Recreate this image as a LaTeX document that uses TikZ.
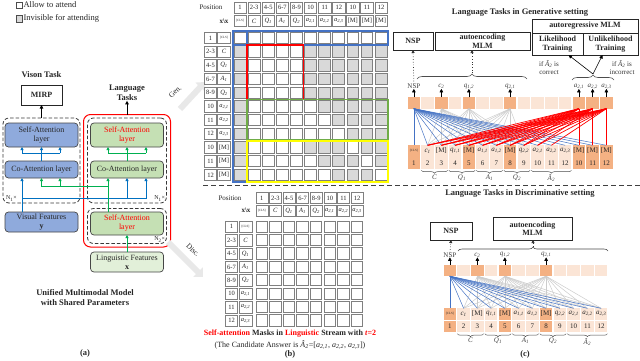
\documentclass[tikz,border=0pt]{standalone}
\usepackage{fontspec}
\setmainfont{Liberation Serif}
\usetikzlibrary{arrows.meta,decorations.pathreplacing,calc}
\definecolor{bluebox}{HTML}{8FAADC}
\definecolor{greenbox}{HTML}{C5E0B4}
\definecolor{lightgreen}{HTML}{E2F0D9}
\definecolor{arrblue}{HTML}{0070C0}
\definecolor{arrgreen}{HTML}{00B050}
\definecolor{mblue}{HTML}{4472C4}
\definecolor{mgreen}{HTML}{70AD47}
\definecolor{myellow}{HTML}{FFFF00}
\definecolor{cellgray}{HTML}{D9D9D9}
\definecolor{cellline}{HTML}{808080}
\definecolor{oD}{HTML}{F4B183}
\definecolor{oL}{HTML}{FBE5D6}
\newcommand{\fsz}[2]{\fontsize{#1}{#2}\selectfont}
\newcommand{\tk}[2]{\textit{#1}\textsubscript{\textit{#2}}}
\newcommand{\tkk}[3]{\textit{#1}\textsubscript{\textit{#2,#3}}}
\newcommand{\Ahat}{\textit{\^{A}}\textsubscript{\textit{2}}}
\newcommand{\clstok}{{\fsz{3.2}{4}[CLS]}}
\begin{document}
\begin{tikzpicture}[x=1pt,y=-1pt,
  every node/.style={inner sep=0pt, outer sep=0pt, text=black!85},
  txt/.style={font=\fsz{8}{9}, align=center},
  btxt/.style={font=\bfseries\fsz{8.5}{10}, align=center},
  lbox/.style={draw=gray!55!black, line width=0.7pt, rounded corners=3.5pt, align=center, font=\fsz{8}{9}, minimum width=73pt},
  dbox/.style={draw=gray!45!black, dash pattern=on 3.5pt off 2pt, line width=0.8pt, rounded corners=6pt},
  tbox/.style={draw=black!85, line width=0.9pt, align=center, font=\bfseries\fsz{8}{8.5}},
  barr/.style={draw=arrblue, line width=0.8pt},
  garr/.style={draw=arrgreen, line width=0.8pt},
  arr/.style={-{Triangle[length=3.2pt,width=3.2pt]}},
  karr/.style={draw=black, line width=0.8pt, -{Triangle[length=3.5pt,width=3.5pt]}},
  darr/.style={draw=black!80, line width=0.7pt, dotted, -{Triangle[length=3pt,width=3pt]}},
  hcell/.style={draw=cellline, line width=0.6pt, fill=white, minimum width=12.4pt, minimum height=11.4pt, font=\fsz{6.5}{7}},
  mcell/.style={draw=cellline, line width=0.9pt, minimum width=11.8pt, minimum height=11.4pt},
  ocell/.style={minimum width=12.6pt, minimum height=11.4pt, font=\fsz{7}{8}},
  bbrace/.style={decorate, decoration={brace, amplitude=3pt}, draw=gray!60!black, line width=0.5pt},
  tbrace/.style={decorate, decoration={brace, amplitude=5pt}, draw=gray!60!black, line width=0.6pt},
  lbl/.style={font=\fsz{7}{8}, text=black!75},
  bline/.style={draw=mblue, line width=0.5pt},
  gline/.style={draw=gray!40, line width=0.5pt},
  rline/.style={draw=red, line width=0.7pt},
  fatarrow/.style={draw=gray!18, line width=6pt, -{Triangle[length=7pt,width=13pt]}}
]
\useasboundingbox (0,0) rectangle (640,360);
\fill[white] (0,0) rectangle (640,360);

% ---------------- (a) ----------------
\node[draw=gray!60!black, line width=0.5pt, fill=white, minimum size=6.5pt] (leg1) at (19,5) {};
\node[anchor=west, font=\fsz{8.5}{9}] (leg1t) at (23.5,5) {Allow to attend};
\node[draw=gray!60!black, line width=0.5pt, fill=cellgray, minimum size=6.5pt] (leg2) at (19,18.5) {};
\node[anchor=west, font=\fsz{8.5}{9}] (leg2t) at (23.5,18.5) {Invisible for attending};

\node[btxt] (vt) at (41.5,75) {Vison Task};
\node[tbox, minimum width=41pt, minimum height=20pt] (mirp) at (41.5,95) {MIRP};
\node[btxt] (lt) at (127,93) {Language\\Tasks};

\node[dbox, minimum width=77pt, minimum height=85pt] (ldash) at (41.5,160.5) {};
\node[draw=red, line width=1pt, rounded corners=7pt, minimum width=87pt, minimum height=132.5pt] (redbox) at (127,180.75) {};
\node[dbox, minimum width=79pt, minimum height=85pt] (rdash) at (127,160.5) {};
\node[dbox, minimum width=79pt, minimum height=35pt] (rdash2) at (127,226) {};
\node[font=\fsz{6}{7}, anchor=south west] (n1l) at (6,201) {N\textsubscript{1}×};
\node[font=\fsz{6}{7}, anchor=south east] (n1r) at (165,201) {N\textsubscript{1}×};
\node[font=\fsz{6}{7}, anchor=south east] (n2r) at (165,242) {N\textsubscript{2}×};

\node[lbox, fill=bluebox, minimum height=24pt] (lsa) at (41.5,135) {Self-Attention\\layer};
\node[lbox, fill=bluebox, minimum height=17pt] (lca) at (41.5,169.5) {Co-Attention layer};
\node[lbox, fill=bluebox, minimum height=20pt] (vf) at (41.5,222) {Visual Features\\\textbf{y}};
\node[lbox, fill=greenbox, minimum height=24pt, text=red] (rsa) at (127,135) {Self-Attention\\layer};
\node[lbox, fill=greenbox, minimum height=17pt] (rca) at (127,169.5) {Co-Attention layer};
\node[lbox, fill=greenbox, minimum height=23pt, text=red] (rsa2) at (127,223.5) {Self-Attention\\layer};
\node[lbox, fill=lightgreen, minimum height=20pt] (lf) at (127,262) {Linguistic Features\\\textbf{x}};

% arrows within (a)
\draw[barr] (lca.north) -- ++(0,-8) coordinate (lj);
\draw[barr] ([xshift=-19.5pt]lj) -- ([xshift=18.5pt]lj);
\foreach \s in {-19.5,0,18.5} \draw[barr,arr] ([xshift=\s pt]lj) -- ([xshift=\s pt]lsa.south);
\draw[garr] (rca.north) -- ++(0,-8) coordinate (rj);
\draw[garr] ([xshift=-19pt]rj) -- ([xshift=19pt]rj);
\foreach \s in {-19,0,19} \draw[garr,arr] ([xshift=\s pt]rj) -- ([xshift=\s pt]rsa.south);

\coordinate (bb) at ([xshift=-19.5pt,yshift=14pt]vf.north);
\coordinate (rcab) at ([xshift=19pt]rca.south);
\draw[barr,arr] ([xshift=-19.5pt]vf.north) -- ([xshift=-19.5pt]lca.south);
\draw[barr,arr] (bb) -| (rcab);
\draw[barr,arr] (bb -| rca.south) -- (rca.south);

\coordinate (gb) at ([xshift=-19pt,yshift=-8pt]rca.south);
\coordinate (lcab) at ([xshift=18.5pt]lca.south);
\draw[garr,arr] ([xshift=-19pt]rsa2.north) -- ([xshift=-19pt]rca.south);
\draw[garr,arr] (gb) -| (lca.south);
\draw[garr,arr] (gb -| lcab) -- (lcab);
\draw[garr,arr] (lf.north) -- (rsa2.south);

\draw[karr] (ldash.north) -- (mirp.south);
\draw[karr] (redbox.north) -- (lt.south);

\node[btxt] (capa) at (85,297.5) {Unified Multimodal Model\\with Shared Parameters};
\node[btxt] (labela) at (85,353) {(a)};

% ---------------- Gen / Disc arrows ----------------
\coordinate (genS) at (180,109); \coordinate (genE) at (205,82);
\draw[fatarrow] (genS) -- (genE);
\node[rotate=44, font=\fsz{7.5}{8}] (gent) at (175,92) {Gen.};
\coordinate (discS) at (168,242); \coordinate (discE) at (203,277);
\draw[fatarrow] (discS) -- (discE);
\node[rotate=-45, font=\fsz{7.5}{8}] (disct) at (193,250) {Disc.};

% ---------------- (b) top matrix ----------------
\node[font=\fsz{7}{8}] (posA) at (211,7.5) {Position};
\node[font=\bfseries\fsz{7}{8}] (xxA) at (224,21) {x\textbackslash x};
\foreach \p [count=\i] in {1,2-3,4-5,6-7,8-9,10,11,12,10,11,12}
  \node[hcell] (ha-\i) at ({233+(\i-0.5)*14.1},7.5) {\p};
\foreach \lab [count=\i] in {\clstok,\textit{C},\tk{Q}{1},\tk{A}{1},\tk{Q}{2},\tkk{a}{2}{1},\tkk{a}{2}{2},\tkk{a}{2}{3},[M],[M],[M]}
  \node[hcell] (hb-\i) at ({233+(\i-0.5)*14.1},21) {\lab};
\foreach \p [count=\i] in {1,2-3,4-5,6-7,8-9,10,11,12,10,11,12}
  \node[hcell] (ra-\i) at (210.5,{31+(\i-0.5)*13.7}) {\p};
\foreach \lab [count=\i] in {\clstok,\textit{C},\tk{Q}{1},\tk{A}{1},\tk{Q}{2},\tkk{a}{2}{1},\tkk{a}{2}{2},\tkk{a}{2}{3},[M],[M],[M]}
  \node[hcell, minimum width=13pt] (rb-\i) at (224,{31+(\i-0.5)*13.7}) {\lab};
\foreach \row [count=\r] in {
  {0,0,0,0,0,0,0,0,0,0,0},
  {1,0,0,0,0,1,1,1,1,1,1},
  {1,0,0,0,0,1,1,1,1,1,1},
  {1,0,0,0,0,1,1,1,1,1,1},
  {1,0,0,0,0,1,1,1,1,1,1},
  {1,0,0,0,0,0,1,1,1,1,1},
  {1,0,0,0,0,0,0,1,1,1,1},
  {1,0,0,0,0,0,0,0,1,1,1},
  {1,0,0,0,0,1,1,1,0,1,1},
  {1,0,0,0,0,0,1,1,1,0,1},
  {1,0,0,0,0,0,0,1,1,1,0}}{
  \foreach \g [count=\c] in \row {
    \ifnum\g=1 \def\fc{cellgray}\else\def\fc{white}\fi
    \node[mcell, fill=\fc] (ma-\r-\c) at ({233+(\c-0.5)*14.1},{31+(\r-0.5)*13.7}) {};
  }
}
\draw[mblue, line width=1.6pt] ([xshift=-1.2pt,yshift=1.2pt]ma-1-1.north west) rectangle ([xshift=1.2pt,yshift=-1.2pt]ma-1-11.south east);
\draw[mblue, line width=1.6pt] ([xshift=-1.2pt,yshift=1.2pt]ma-1-1.north west) rectangle ([xshift=1.2pt,yshift=-1.2pt]ma-11-1.south east);
\draw[red, line width=1.6pt] ([xshift=-1pt,yshift=1pt]ma-2-2.north west) rectangle ([xshift=1pt,yshift=-1pt]ma-5-5.south east);
\draw[mgreen, line width=1.6pt] ([xshift=-1pt,yshift=1pt]ma-6-2.north west) rectangle ([xshift=1.2pt,yshift=-0.8pt]ma-8-11.south east);
\draw[myellow, line width=1.6pt] ([xshift=-1pt,yshift=0.8pt]ma-9-2.north west) rectangle ([xshift=1.2pt,yshift=-1.2pt]ma-11-11.south east);

% separator
\coordinate (sepL) at (203,185.5); \coordinate (sepR) at (640,185.5);
\draw[gray!50!black, line width=1.2pt, dash pattern=on 5pt off 3pt] (sepL) -- (sepR);

% ---------------- (b) bottom matrix ----------------
\node[font=\fsz{7}{8}] (posB) at (230,198) {Position};
\node[font=\bfseries\fsz{7}{8}] (xxB) at (246,210.5) {x\textbackslash x};
\foreach \p [count=\i] in {1,2-3,4-5,6-7,8-9,10,11,12}
  \node[hcell, minimum width=12pt] (hc-\i) at ({255+(\i-0.5)*13.6},198) {\p};
\foreach \lab [count=\i] in {\clstok,\textit{C},\tk{Q}{1},\tk{A}{1},\tk{Q}{2},\tkk{a}{2}{1},\tkk{a}{2}{2},\tkk{a}{2}{3}}
  \node[hcell, minimum width=12pt] (hd-\i) at ({255+(\i-0.5)*13.6},210.5) {\lab};
\foreach \p [count=\i] in {1,2-3,4-5,6-7,8-9,10,11,12}
  \node[hcell, minimum width=12pt] (rc-\i) at (231.5,{220+(\i-0.5)*13.4}) {\p};
\foreach \lab [count=\i] in {\clstok,\textit{C},\tk{Q}{1},\tk{A}{1},\tk{Q}{2},\tkk{a}{2}{1},\tkk{a}{2}{2},\tkk{a}{2}{3}}
  \node[hcell, minimum width=13pt] (rd-\i) at (245.5,{220+(\i-0.5)*13.4}) {\lab};
\foreach \r in {1,...,8}
  \foreach \c in {1,...,8}
    \node[mcell, fill=white, minimum width=11.4pt, minimum height=11.2pt] (mb-\r-\c) at ({255+(\c-0.5)*13.6},{220+(\r-0.5)*13.4}) {};

\node[font=\bfseries\fsz{8}{9}] (capb1) at (290,334) {\textcolor{red}{Self-attention} Masks in \textcolor{red}{Linguistic} Stream with \textcolor{red}{\textit{t}=2}};
\node[font=\fsz{8}{9}] (capb2) at (290,345) {(The Candidate Answer is \Ahat=[\tkk{a}{2}{1}, \tkk{a}{2}{2}, \tkk{a}{2}{3}])};
\node[btxt] (labelb) at (290,354.5) {(b)};

% ---------------- (c) generative ----------------
\node[btxt] (gtitle) at (520,12) {Language Tasks in Generative setting};
\node[tbox, minimum width=40pt, minimum height=18pt] (gnsp) at (413,41) {NSP};
\node[tbox, minimum width=95pt, minimum height=18pt] (gmlm) at (482.5,41) {autoencoding\\MLM};
\node[tbox, minimum width=106pt, minimum height=14pt] (armlm) at (585,26) {autoregressive MLM};
\node[tbox, minimum width=51pt, minimum height=22pt, anchor=north west] (lik) at (armlm.south west) {Likelihood\\Training};
\node[tbox, minimum width=55pt, minimum height=22pt, anchor=north east] (unlik) at (armlm.south east) {Unlikelihood\\Training};

\foreach \fc [count=\i] in {oD,oL,oD,oL,oD,oL,oL,oD,oL,oL,oL,oL,oD,oD,oD}
  \node[ocell, fill=\fc] (gh-\i) at ({407+(\i-0.5)*13.75},103) {};
\foreach \lab/\fc [count=\i] in {\clstok/oD,\tk{c}{1}/oL,[M]/oL,\tkk{q}{1}{1}/oL,[M]/oD,\tkk{a}{1}{1}/oL,\tkk{a}{1}{2}/oL,[M]/oD,\tkk{q}{2}{2}/oL,\tkk{a}{2}{1}/oL,\tkk{a}{2}{2}/oL,\tkk{a}{2}{3}/oL,[M]/oD,[M]/oD,[M]/oD}
  \node[ocell, fill=\fc] (gt-\i) at ({407+(\i-0.5)*13.75},151) {\lab};
\foreach \lab/\fc [count=\i] in {1/oD,2/oL,3/oL,4/oL,5/oD,6/oL,7/oL,8/oD,9/oL,10/oL,11/oL,12/oL,10/oD,11/oD,12/oD}
  \node[ocell, fill=\fc] (gn-\i) at ({407+(\i-0.5)*13.75},163) {\lab};

\foreach \s in {3,5,8} \foreach \j in {2,...,9} \draw[gline] (gh-\s.south) -- (gt-\j.north);
\foreach \j in {1,...,15} \draw[bline] (gh-1.south) -- (gt-\j.north);
\foreach \s in {13,14,15} \foreach \j in {2,...,9} \draw[rline] (gh-\s.south) -- (gt-\j.north);
\draw[rline] (gh-13.south) -- (gt-13.north);
\draw[rline] (gh-14.south) -- (gt-10.north);
\draw[rline] (gh-14.south) -- (gt-14.north);
\draw[rline] (gh-15.south) -- (gt-10.north);
\draw[rline] (gh-15.south) -- (gt-11.north);
\draw[rline] (gh-15.south) -- (gt-15.north);

\foreach \i/\lab in {1/NSP,3/\tk{c}{2},5/\tkk{q}{1}{2},8/\tkk{q}{2}{1},13/\tkk{a}{2}{1},14/\tkk{a}{2}{2},15/\tkk{a}{2}{3}}{
  \node[lbl, anchor=south] (gl-\i) at ([yshift=8.5pt]gh-\i.north) {\lab};
  \draw[karr, line width=0.6pt] (gh-\i.north) -- (gl-\i.south);
}
\draw[darr] (gl-1.north) -- (gnsp.south);
\draw[tbrace] (417,79) -- (527,79);
\coordinate (gtip) at (472,73);
\draw[darr] (gtip) -- (gtip |- gmlm.south);
\draw[tbrace] (572,80) -- (614,80);
\coordinate (atip) at (593,74);
\draw[karr, line width=0.6pt] (atip) -- ([xshift=11pt]lik.south);
\draw[karr, line width=0.6pt] (atip) -- ([xshift=-8pt]unlik.south);
\node[font=\fsz{7}{7.8}, align=center, text=black!80] (ifc) at (549,67.5) {if \Ahat\ is\\correct};
\node[font=\fsz{7}{7.8}, align=center, text=black!80] (ifi) at (622,67.5) {if \Ahat\ is\\incorrect};

\foreach \a/\b/\lab in {2/3/\textit{C},4/5/\tk{Q}{1},6/7/\tk{A}{1},8/9/\tk{Q}{2},10/12/\Ahat}
  \draw[bbrace] ([yshift=-1.5pt]gn-\b.south east) -- ([yshift=-1.5pt]gn-\a.south west) node[midway, below=4.5pt, lbl] (gbl-\a) {\lab};

% ---------------- (c) discriminative ----------------
\node[btxt] (dtitle) at (520,193) {Language Tasks in Discriminative setting};
\node[tbox, minimum width=42pt, minimum height=18pt] (dnsp) at (451,231) {NSP};
\node[tbox, minimum width=79pt, minimum height=23pt] (dmlm) at (532.5,228.5) {autoencoding\\MLM};

\foreach \fc [count=\i] in {oD,oL,oD,oL,oD,oL,oL,oD,oL,oL,oL,oL}
  \node[ocell, fill=\fc] (dh-\i) at ({443+(\i-0.5)*13.75},270.5) {};
\foreach \lab/\fc [count=\i] in {\clstok/oD,\tk{c}{1}/oL,[M]/oL,\tkk{q}{1}{1}/oL,[M]/oD,\tkk{a}{1}{1}/oL,\tkk{a}{1}{2}/oL,[M]/oD,\tkk{q}{2}{2}/oL,\tkk{a}{2}{1}/oL,\tkk{a}{2}{2}/oL,\tkk{a}{2}{3}/oL}
  \node[ocell, fill=\fc] (dt-\i) at ({443+(\i-0.5)*13.75},314) {\lab};
\foreach \lab/\fc [count=\i] in {1/oD,2/oL,3/oL,4/oL,5/oD,6/oL,7/oL,8/oD,9/oL,10/oL,11/oL,12/oL}
  \node[ocell, fill=\fc] (dn-\i) at ({443+(\i-0.5)*13.75},326.5) {\lab};

\foreach \s in {3,5,8} \foreach \j in {2,...,12} \draw[gline] (dh-\s.south) -- (dt-\j.north);
\foreach \j in {1,...,12} \draw[bline] (dh-1.south) -- (dt-\j.north);

\foreach \i/\lab in {1/NSP,3/\tk{c}{2},5/\tkk{q}{1}{2},8/\tkk{q}{2}{1}}{
  \node[lbl, anchor=south] (dl-\i) at ([yshift=7.5pt]dh-\i.north) {\lab};
  \draw[karr, line width=0.6pt] (dh-\i.north) -- (dl-\i.south);
}
\draw[darr] (dl-1.north) -- (dnsp.south);
\draw[tbrace, decoration={brace, amplitude=4pt}] (458,251) -- (608,251);
\coordinate (dtip) at (533,246.5);
\draw[darr] (dtip) -- (dtip |- dmlm.south);

\foreach \a/\b/\lab in {2/3/\textit{C},4/5/\tk{Q}{1},6/7/\tk{A}{1},8/9/\tk{Q}{2},10/12/\Ahat}
  \draw[bbrace] ([yshift=-1.5pt]dn-\b.south east) -- ([yshift=-1.5pt]dn-\a.south west) node[midway, below=4.5pt, lbl] (dbl-\a) {\lab};
\node[btxt] (labelc) at (525,354.5) {(c)};
\end{tikzpicture}
\end{document}
